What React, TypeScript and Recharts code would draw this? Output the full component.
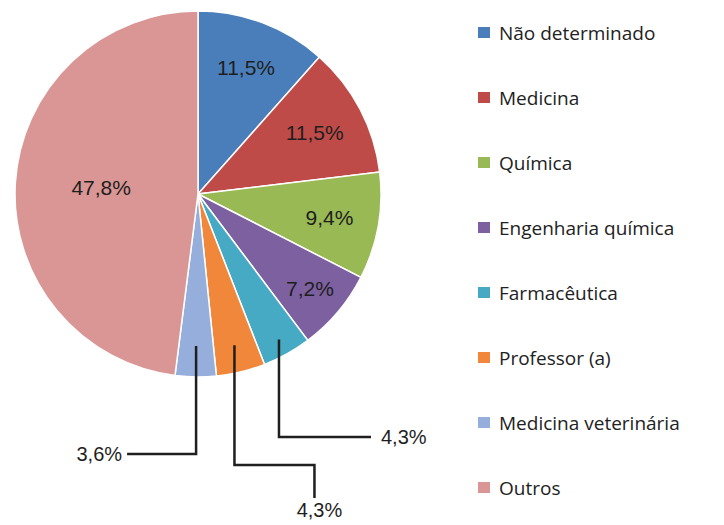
import { PieChart, Pie, Cell, Legend } from "recharts";

const CATEGORIAS = [
  "Não determinado",
  "Medicina",
  "Química",
  "Engenharia química",
  "Farmacêutica",
  "Professor (a)",
  "Medicina veterinária",
  "Outros",
];

const PERCENTUAIS = [11.5, 11.5, 9.4, 7.2, 4.3, 4.3, 3.6, 47.8];

const CORES = [
  "#4a7ebb",
  "#be4b48",
  "#98b954",
  "#7d60a0",
  "#46aac5",
  "#f0873a",
  "#95aedc",
  "#d99694",
];

const data = CATEGORIAS.map((nome, i) => ({
  nome,
  valor: PERCENTUAIS[i],
  fill: CORES[i],
}));

const RAD = Math.PI / 180;
const TEXT_FONT = "'Liberation Sans', Arial, sans-serif";

// label radius inside the slice (fraction of outer radius)
const INSIDE_R: Record<number, number> = { 0: 0.74, 1: 0.72, 2: 0.73, 3: 0.8, 7: 0.53 };

// leader lines for the thin slices (offsets from the slice point / centre)
const LEADERS: Record<number, { r: number; drop: number; dx: number; drop2?: number; anchor: "start" | "middle" | "end" }> = {
  4: { r: 0.91, drop: 243, dx: 92, anchor: "start" },
  5: { r: 0.85, drop: 271, dx: 80, drop2: 33, anchor: "middle" },
  6: { r: 0.83, drop: 260, dx: -69, anchor: "end" },
};

const fmt = (v: number) => `${v.toFixed(1).replace(".", ",")}%`;

function renderLabel(props: any) {
  const { cx, cy, midAngle, outerRadius, index, value } = props;
  const leader = LEADERS[index];
  if (!leader) {
    const r = outerRadius * (INSIDE_R[index] ?? 0.72);
    const x = cx + r * Math.cos(-midAngle * RAD);
    const y = cy + r * Math.sin(-midAngle * RAD);
    return (
      <text x={x} y={y} textAnchor="middle" dominantBaseline="central" fill="#1e1e1e" fontSize={21} fontFamily={TEXT_FONT}>
        {fmt(value)}
      </text>
    );
  }
  const r = outerRadius * leader.r;
  const x0 = cx + r * Math.cos(-midAngle * RAD);
  const y0 = cy + r * Math.sin(-midAngle * RAD);
  const y1 = cy + leader.drop;
  const x1 = x0 + leader.dx;
  const pts = [`${x0},${y0}`, `${x0},${y1}`, `${x1},${y1}`];
  let tx = x1;
  let ty = y1;
  if (leader.drop2) {
    pts.push(`${x1},${y1 + leader.drop2}`);
    ty = y1 + leader.drop2 + 12;
    tx = x1 + 5;
  } else if (leader.anchor === "start") {
    tx = x1 + 10;
  } else {
    tx = x1 - 5;
  }
  return (
    <g>
      <polyline points={pts.join(" ")} fill="none" stroke="#1f1f1f" strokeWidth={2.5} />
      <text x={tx} y={ty} textAnchor={leader.anchor} dominantBaseline="central" fill="#1e1e1e" fontSize={20} fontFamily={TEXT_FONT}>
        {fmt(value)}
      </text>
    </g>
  );
}

function LegendaLateral() {
  return (
    <div>
      {data.map((item, i) => (
        <div
          key={i}
          style={{
            display: "flex",
            alignItems: "center",
            height: 65,
            fontFamily: "'Open Sans', sans-serif",
            fontSize: 19,
            color: "#222",
            whiteSpace: "nowrap",
          }}
        >
          <span style={{ display: "inline-block", width: 12, height: 11, background: item.fill, marginRight: 9 }} />
          {item.nome}
        </div>
      ))}
    </div>
  );
}

export default function App() {
  return (
    <div style={{ position: "absolute", left: 0, top: 0, width: 724, height: 525, background: "#fff" }}>
      <PieChart width={724} height={525} margin={{ top: 0, right: 0, bottom: 0, left: 0 }}>
        <Pie
          data={data}
          dataKey="valor"
          nameKey="nome"
          cx={198}
          cy={194}
          outerRadius={183}
          startAngle={90}
          endAngle={-270}
          stroke="#ffffff"
          strokeWidth={1.5}
          label={renderLabel}
          labelLine={false}
          isAnimationActive={false}
        >
          {data.map((d, i) => (
            <Cell key={i} fill={d.fill} />
          ))}
        </Pie>
        <Legend
          layout="vertical"
          align="right"
          verticalAlign="top"
          content={<LegendaLateral />}
          wrapperStyle={{ left: 478, top: 0, width: 246 }}
        />
      </PieChart>
    </div>
  );
}
